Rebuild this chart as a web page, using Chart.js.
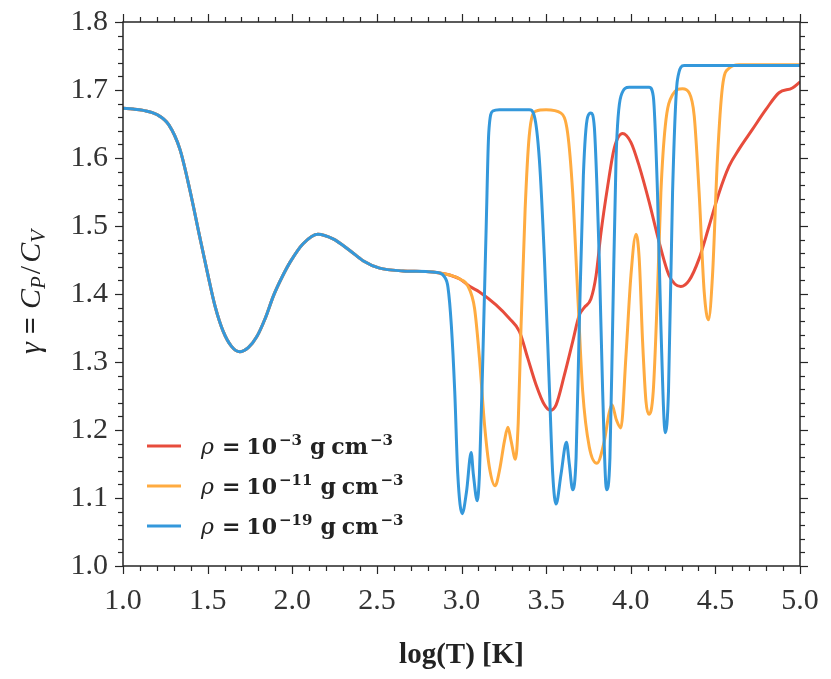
<!DOCTYPE html>
<html>
<head>
<meta charset="utf-8">
<script src="https://cdn.jsdelivr.net/npm/chart.js@4.4.0/dist/chart.umd.min.js"></script>
<style>
  html, body { margin: 0; padding: 0; background: #fff; }
  #wrap { width: 831px; height: 679px; }
</style>
</head>
<body>
<div id="wrap"><canvas id="gammaChart" width="831" height="679"></canvas></div>
<script>
// log(T) vs gamma
const sharedLowT = [
  [1.00, 1.673], [1.06, 1.672], [1.12, 1.670], [1.20, 1.664], [1.27, 1.649],
  [1.336, 1.613], [1.395, 1.553], [1.45, 1.488], [1.50, 1.430], [1.543, 1.383],
  [1.592, 1.345], [1.641, 1.323], [1.69, 1.315], [1.74, 1.321], [1.79, 1.337],
  [1.84, 1.364], [1.89, 1.398], [1.94, 1.425], [1.99, 1.448], [2.064, 1.474],
  [2.152, 1.488], [2.241, 1.481], [2.34, 1.464], [2.418, 1.449], [2.516, 1.438],
  [2.654, 1.434], [2.79, 1.433], [2.87, 1.431]
];
const rho19HighT = [
  [2.90, 1.425], [2.92, 1.410], [2.94, 1.354], [2.96, 1.257], [2.978, 1.135],
  [3.004, 1.077], [3.03, 1.110], [3.057, 1.167], [3.07, 1.135], [3.093, 1.096],
  [3.106, 1.135], [3.126, 1.306], [3.146, 1.500], [3.161, 1.637], [3.185, 1.669],
  [3.224, 1.671], [3.40, 1.671], [3.43, 1.662], [3.46, 1.598], [3.49, 1.452],
  [3.52, 1.257], [3.539, 1.135], [3.559, 1.091], [3.588, 1.135], [3.62, 1.182],
  [3.637, 1.150], [3.657, 1.112], [3.677, 1.159], [3.696, 1.354], [3.72, 1.574],
  [3.745, 1.660], [3.765, 1.666], [3.785, 1.645], [3.80, 1.560], [3.814, 1.452],
  [3.834, 1.257], [3.857, 1.112], [3.877, 1.159], [3.893, 1.354], [3.913, 1.598],
  [3.942, 1.691], [3.991, 1.704], [4.109, 1.704], [4.133, 1.691], [4.158, 1.549],
  [4.178, 1.354], [4.204, 1.196], [4.223, 1.257], [4.247, 1.549], [4.276, 1.715],
  [4.316, 1.736], [5.00, 1.736]
];
const rho11HighT = [
  [2.93, 1.428], [2.99, 1.422], [3.037, 1.412], [3.077, 1.379], [3.106, 1.306],
  [3.136, 1.208], [3.165, 1.145], [3.199, 1.118], [3.224, 1.140], [3.254, 1.184],
  [3.274, 1.204], [3.293, 1.184], [3.319, 1.157], [3.335, 1.210], [3.352, 1.354],
  [3.376, 1.525], [3.40, 1.632], [3.44, 1.669], [3.50, 1.671], [3.588, 1.666],
  [3.627, 1.637], [3.657, 1.549], [3.686, 1.403], [3.716, 1.257], [3.755, 1.175],
  [3.80, 1.151], [3.844, 1.184], [3.872, 1.225], [3.889, 1.237], [3.915, 1.215],
  [3.942, 1.203], [3.971, 1.306], [4.001, 1.427], [4.031, 1.488], [4.05, 1.452],
  [4.07, 1.330], [4.09, 1.242], [4.107, 1.223], [4.133, 1.257], [4.158, 1.403],
  [4.178, 1.549], [4.204, 1.647], [4.247, 1.693], [4.306, 1.702], [4.345, 1.696],
  [4.375, 1.662], [4.404, 1.549], [4.434, 1.403], [4.459, 1.362], [4.483, 1.427],
  [4.512, 1.598], [4.542, 1.705], [4.581, 1.732], [4.64, 1.737], [5.00, 1.737]
];
const rho3HighT = [
  [2.93, 1.428], [2.99, 1.422], [3.05, 1.411], [3.106, 1.403], [3.204, 1.384],
  [3.283, 1.364], [3.342, 1.345], [3.391, 1.306], [3.44, 1.267], [3.49, 1.237],
  [3.525, 1.229], [3.559, 1.237], [3.608, 1.281], [3.657, 1.330], [3.696, 1.369],
  [3.725, 1.380], [3.765, 1.393], [3.795, 1.427], [3.824, 1.490], [3.864, 1.559],
  [3.903, 1.615], [3.952, 1.636], [4.001, 1.623], [4.05, 1.588], [4.109, 1.535],
  [4.168, 1.476], [4.227, 1.427], [4.296, 1.411], [4.345, 1.420], [4.404, 1.452],
  [4.463, 1.500], [4.522, 1.549], [4.581, 1.588], [4.64, 1.613], [4.719, 1.642],
  [4.798, 1.671], [4.876, 1.696], [4.955, 1.703], [5.00, 1.712]
];

const densityExponents = ['\u22123', '\u221211', '\u221219'];
const seriesColors = ['#e74c3c', '#ffab40', '#3498db'];
const xMajorTicks = [1.0, 1.5, 2.0, 2.5, 3.0, 3.5, 4.0, 4.5, 5.0];
const yMajorTicks = [1.0, 1.1, 1.2, 1.3, 1.4, 1.5, 1.6, 1.7, 1.8];
const xMinorStep = 0.1;
const yMinorStep = 0.02;

const toPoints = pairs => pairs.map(([x, y]) => ({ x, y }));

function minorTicks(majors, step) {
  const out = [];
  const lo = majors[0], hi = majors[majors.length - 1];
  const n = Math.round((hi - lo) / step);
  for (let i = 0; i <= n; i++) {
    const v = lo + i * step;
    if (!majors.some(m => Math.abs(m - v) < 1e-6)) out.push(v);
  }
  return out;
}

// draws a list of text pieces one after the other, starting at x
function drawRuns(ctx, runs, x, y) {
  runs.forEach(r => {
    ctx.font = r.font;
    ctx.fillText(r.t, x, y + (r.dy || 0));
    x += ctx.measureText(r.t).width + (r.gap || 0);
  });
}
function runsWidth(ctx, runs) {
  let w = 0;
  runs.forEach(r => { ctx.font = r.font; w += ctx.measureText(r.t).width + (r.gap || 0); });
  return w;
}

const SERIF = '"Liberation Serif", serif';
const LEG = '"DejaVu Serif", serif';

const framePlugin = {
  id: 'frame',
  afterDraw(chart) {
    const { ctx, chartArea: a, scales: { x, y } } = chart;
    ctx.save();
    ctx.strokeStyle = '#262626';
    ctx.lineWidth = 1.5;
    ctx.strokeRect(a.left, a.top, a.right - a.left, a.bottom - a.top);
    ctx.lineWidth = 1.2;
    const seg = (x1, y1, x2, y2) => { ctx.beginPath(); ctx.moveTo(x1, y1); ctx.lineTo(x2, y2); ctx.stroke(); };
    const xt = xMajorTicks.map(v => [v, 8]).concat(minorTicks(xMajorTicks, xMinorStep).map(v => [v, 5]));
    const yt = yMajorTicks.map(v => [v, 8]).concat(minorTicks(yMajorTicks, yMinorStep).map(v => [v, 5]));
    xt.forEach(([v, len]) => {
      const px = Math.round(x.getPixelForValue(v)) + 0.5;
      seg(px, a.bottom, px, a.bottom + len);
      seg(px, a.top, px, a.top - len);
    });
    yt.forEach(([v, len]) => {
      const py = Math.round(y.getPixelForValue(v)) + 0.5;
      seg(a.left, py, a.left - len, py);
      seg(a.right, py, a.right + len, py);
    });

    // axis titles
    ctx.fillStyle = '#222';
    ctx.textBaseline = 'alphabetic';
    ctx.textAlign = 'left';
    ctx.font = 'bold 29px ' + SERIF;
    const xt1 = 'log(T) [K]';
    const xw = ctx.measureText(xt1).width;
    ctx.fillText(xt1, (a.left + a.right) / 2 - xw / 2, 663);

    const yRuns = [
      { t: '\u03b3', font: 'italic 30px ' + SERIF, gap: 8 },
      { t: '=', font: 'bold 30px ' + SERIF, gap: 8 },
      { t: 'C', font: 'italic 30px ' + SERIF, gap: 0 },
      { t: 'P', font: 'italic 21px ' + SERIF, dy: 5, gap: 2 },
      { t: '/', font: '30px ' + SERIF, gap: 3 },
      { t: 'C', font: 'italic 30px ' + SERIF, gap: 0 },
      { t: 'V', font: 'italic 21px ' + SERIF, dy: 5, gap: 0 }
    ];
    const yw = runsWidth(ctx, yRuns);
    ctx.save();
    ctx.translate(40, 292);
    ctx.rotate(-Math.PI / 2);
    drawRuns(ctx, yRuns, -yw / 2, 0);
    ctx.restore();

    // legend
    const rows = [446, 486, 526];
    densityExponents.forEach((ex, i) => {
      const ly = rows[i];
      ctx.strokeStyle = seriesColors[i];
      ctx.lineWidth = 3;
      seg(147, ly, 181, ly);
      ctx.fillStyle = '#222';
      drawRuns(ctx, [
        { t: '\u03c1', font: 'italic 22px ' + LEG, gap: 8 },
        { t: '=', font: 'bold 22px ' + LEG, gap: 6 },
        { t: '10', font: 'bold 22px ' + LEG, gap: 2 },
        { t: ex, font: 'bold 15px ' + LEG, dy: -9, gap: 8 },
        { t: 'g', font: 'bold 22px ' + LEG, gap: 6 },
        { t: 'cm', font: 'bold 22px ' + LEG, gap: 2 },
        { t: '\u22123', font: 'bold 15px ' + LEG, dy: -9, gap: 0 }
      ], 201, ly + 8);
    });
    ctx.restore();
  }
};

const makeSet = (i, label, pairs, order) => ({
  label,
  data: toPoints(pairs),
  borderColor: seriesColors[i],
  backgroundColor: seriesColors[i],
  borderWidth: 3,
  pointRadius: 0,
  cubicInterpolationMode: 'monotone',
  fill: false,
  order
});

new Chart(document.getElementById('gammaChart'), {
  type: 'line',
  data: {
    datasets: [
      makeSet(0, '\u03c1 = 10\u207b\u00b3 g cm\u207b\u00b3', sharedLowT.concat(rho3HighT), 3),
      makeSet(1, '\u03c1 = 10\u207b\u00b9\u00b9 g cm\u207b\u00b3', sharedLowT.concat(rho11HighT), 2),
      makeSet(2, '\u03c1 = 10\u207b\u00b9\u2079 g cm\u207b\u00b3', sharedLowT.concat(rho19HighT), 1)
    ]
  },
  options: {
    responsive: false,
    animation: false,
    layout: { padding: { left: 0, top: 22, right: 31, bottom: 0 } },
    plugins: { legend: { display: false }, tooltip: { enabled: false } },
    scales: {
      x: {
        type: 'linear',
        min: 1, max: 5,
        afterBuildTicks: s => { s.ticks = xMajorTicks.map(v => ({ value: v })); },
        afterFit: s => { s.height = 113; s.paddingLeft = 0; s.paddingRight = 0; },
        grid: { display: false, drawTicks: false },
        border: { display: false },
        ticks: {
          padding: 17, color: '#333', maxRotation: 0, autoSkip: false,
          font: { family: SERIF, size: 30 },
          callback: v => v.toFixed(1)
        }
      },
      y: {
        type: 'linear',
        min: 1, max: 1.8,
        afterBuildTicks: s => { s.ticks = yMajorTicks.map(v => ({ value: v })); },
        afterFit: s => { s.width = 123; s.paddingTop = 0; s.paddingBottom = 0; },
        grid: { display: false, drawTicks: false },
        border: { display: false },
        ticks: {
          padding: 15, color: '#333', autoSkip: false,
          font: { family: SERIF, size: 30 },
          callback: v => v.toFixed(1)
        }
      }
    }
  },
  plugins: [framePlugin]
});
</script>
</body>
</html>
